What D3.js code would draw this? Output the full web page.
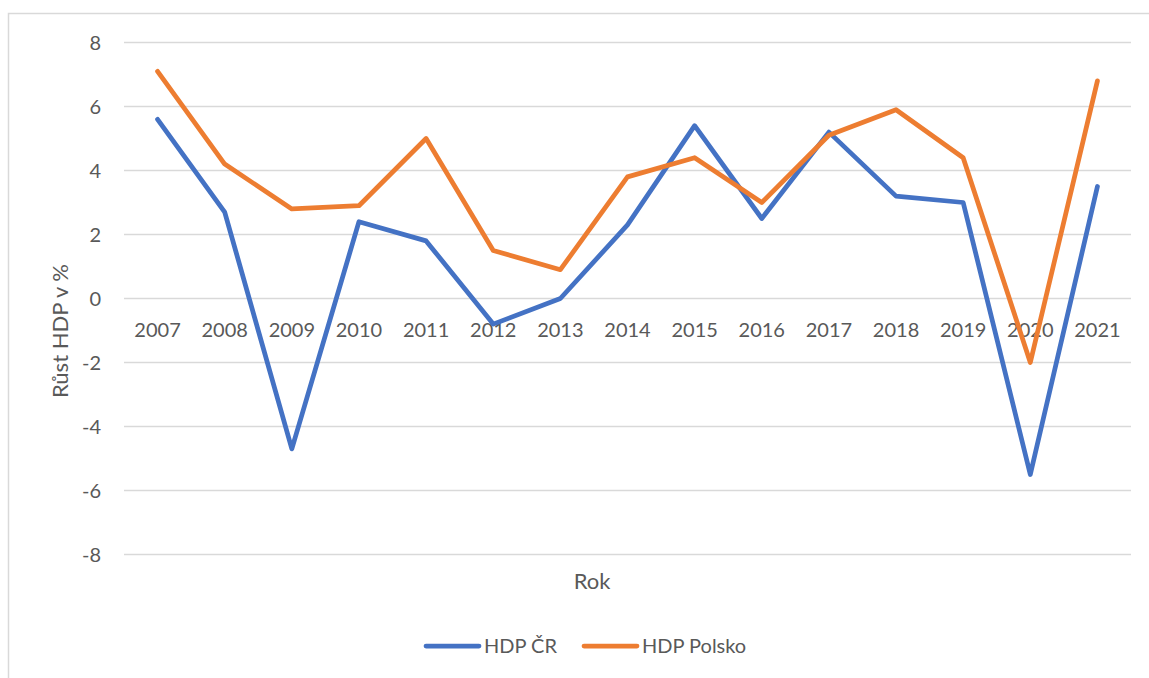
<!DOCTYPE html>
<html>
<head>
<meta charset="utf-8">
<script src="https://cdn.jsdelivr.net/npm/d3@7"></script>
<style>
  html, body { margin: 0; padding: 0; background: #fff; }
  svg { display: block; }
  text { font-family: Lato, "Open Sans", sans-serif; fill: #595959; }
</style>
</head>
<body>
<svg id="chart" width="1149" height="678"></svg>
<script>
const years = ["2007","2008","2009","2010","2011","2012","2013","2014","2015","2016","2017","2018","2019","2020","2021"];
const hdpCR = [5.6, 2.7, -4.7, 2.4, 1.8, -0.8, 0.0, 2.3, 5.4, 2.5, 5.2, 3.2, 3.0, -5.5, 3.5];
const hdpPL = [7.1, 4.2, 2.8, 2.9, 5.0, 1.5, 0.9, 3.8, 4.4, 3.0, 5.1, 5.9, 4.4, -2.0, 6.8];
const yTicks = [-8, -6, -4, -2, 0, 2, 4, 6, 8];
const seriesNames = ["HDP ČR", "HDP Polsko"];
const colors = ["#4472C4", "#ED7D31"];

const svg = d3.select("#chart");
const W = 1149, H = 678;

// chart frame
svg.append("rect").attr("x", 8.5).attr("y", 13.5).attr("width", W + 10).attr("height", H + 10)
  .attr("fill", "#fff").attr("stroke", "#d9d9d9").attr("stroke-width", 1.5);

const pLeft = 124, pRight = 1131, pTop = 42.5, pBottom = 554.5;
const x = d3.scaleBand().domain(years).range([pLeft, pRight]);
const y = d3.scaleLinear().domain([-8, 8]).range([pBottom, pTop]);

// gridlines
svg.append("g").selectAll("line").data(yTicks).join("line")
  .attr("x1", pLeft).attr("x2", pRight)
  .attr("y1", d => y(d)).attr("y2", d => y(d))
  .attr("stroke", "#d9d9d9").attr("stroke-width", 1.5);

// y axis labels
const yAxis = d3.axisLeft(y).tickValues(yTicks).tickSize(0).tickPadding(0).tickFormat(d => String(d));
const gy = svg.append("g").attr("transform", `translate(${pLeft - 23},0)`).call(yAxis);
gy.select(".domain").remove();
gy.selectAll("text").attr("font-size", 20).style("fill", "#595959").attr("font-family", "Lato, sans-serif").attr("dy", "0.35em");

// x axis labels (next to zero)
const xAxis = d3.axisBottom(x).tickSize(0).tickPadding(0);
const gx = svg.append("g").attr("transform", `translate(0,${y(0)})`).call(xAxis);
gx.select(".domain").remove();
gx.selectAll("text").attr("font-size", 20).style("fill", "#595959").attr("font-family", "Lato, sans-serif")
  .attr("dy", null).attr("y", 38);

// lines
const line = d3.line().x((d, i) => x(years[i]) + x.bandwidth() / 2).y(d => y(d));
[hdpCR, hdpPL].forEach((s, k) => {
  svg.append("path").datum(s).attr("d", line)
    .attr("fill", "none").attr("stroke", colors[k]).attr("stroke-width", 4.75)
    .attr("stroke-linejoin", "round").attr("stroke-linecap", "round");
});

// axis titles
svg.append("text").attr("transform", `translate(68,331) rotate(-90)`)
  .attr("text-anchor", "middle").attr("font-size", 22).text("Růst HDP v %");
svg.append("text").attr("x", 592).attr("y", 589)
  .attr("text-anchor", "middle").attr("font-size", 22).text("Rok");

// legend
const legX = [426, 584];
seriesNames.forEach((n, k) => {
  const g = svg.append("g");
  g.append("line").attr("x1", legX[k]).attr("x2", legX[k] + 53).attr("y1", 646).attr("y2", 646)
    .attr("stroke", colors[k]).attr("stroke-width", 4.75).attr("stroke-linecap", "round");
  g.append("text").attr("x", legX[k] + 58).attr("y", 653).attr("font-size", 20).text(n);
});
</script>
</body>
</html>
